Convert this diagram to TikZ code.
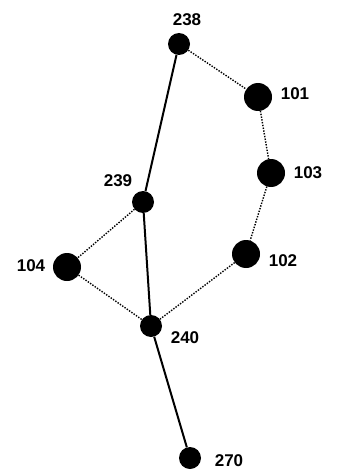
\documentclass[tikz,border=0pt]{standalone}
\usepackage{fontspec}
\setmainfont{Liberation Sans}
\usepackage{tikz}
\usetikzlibrary{graphs}

\tikzset{
    small dot/.style={circle, fill=black, inner sep=0pt, minimum size=22pt},
    big dot/.style={circle, fill=black, inner sep=0pt, minimum size=28pt},
    num/.style={font=\fontsize{17}{17}\selectfont\bfseries, inner sep=0pt},
    solid edge/.style={line width=2pt},
    dotted edge/.style={line width=1.4pt, dash pattern=on 1.4pt off 1.4pt},
}

\begin{document}
\begin{tikzpicture}[x=1pt, y=-1pt]
            \useasboundingbox (0,0) rectangle (338,476);

            \node[small dot] (n238) at (179, 44) {};
            \node[big dot] (n101) at (258, 97) {};
            \node[big dot] (n103) at (271, 173) {};
            \node[small dot] (n239) at (143, 202) {};
            \node[big dot] (n104) at (67, 267) {};
            \node[big dot] (n102) at (246, 254) {};
            \node[small dot] (n240) at (151, 326) {};
            \node[small dot] (n270) at (190, 458) {};

            \node[num] (l238) at (187, 20) {238};
            \node[num] (l101) at (295, 94) {101};
            \node[num] (l103) at (308, 173) {103};
            \node[num] (l239) at (118, 181) {239};
            \node[num] (l104) at (31, 266) {104};
            \node[num] (l102) at (283, 261) {102};
            \node[num] (l240) at (185, 338) {240};
            \node[num] (l270) at (229, 461) {270};

            \graph {(n238) --[solid edge] (n239)};
            \graph {(n239) --[solid edge] (n240)};
            \graph {(n240) --[solid edge] (n270)};
            \graph {(n238) --[dotted edge] (n101)};
            \graph {(n101) --[dotted edge] (n103)};
            \graph {(n103) --[dotted edge] (n102)};
            \graph {(n102) --[dotted edge] (n240)};
            \graph {(n239) --[dotted edge] (n104)};
            \graph {(n104) --[dotted edge] (n240)};
        \end{tikzpicture}
\end{document}
